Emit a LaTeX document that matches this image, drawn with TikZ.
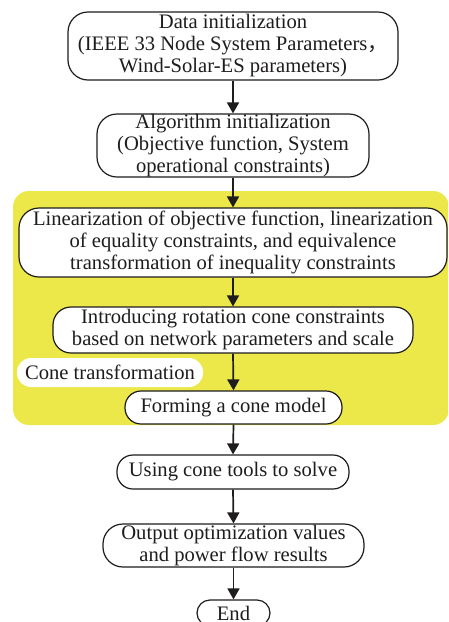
\documentclass[tikz,border=0pt]{standalone}
\usepackage{fontspec}
\setmainfont{Liberation Serif}
\newfontfamily\cjk{Noto Sans CJK SC}
\usetikzlibrary{arrows.meta}
\definecolor{ylw}{RGB}{237,232,74}
\definecolor{ink}{RGB}{30,28,28}
\tikzset{
  x=1pt,y=-1pt,
  box/.style={draw=ink, line width=1.2pt, fill=white, rounded corners=16pt, inner sep=0pt,
    align=center, text=ink, font=\fontsize{20.6}{22}\selectfont, anchor=center},
  flow/.style={draw=ink, line width=1.7pt, -{Triangle[length=11pt,width=12pt]}},
}
\begin{document}
\begin{tikzpicture}
\clip (0,0) rectangle (448,622);
\useasboundingbox (0,0) rectangle (448,622);
\fill[ylw, rounded corners=16pt] (13,191) rectangle (449,425);
\node[box, minimum width=330pt, minimum height=68pt, rounded corners=20pt] (n1) at (233,46)
  {Data initialization\\(IEEE 33 Node System Parameters{\cjk ，}\\Wind-Solar-ES parameters)};
\node[box, minimum width=272pt, minimum height=63pt, rounded corners=20pt] (n2) at (233,145.5)
  {Algorithm initialization\\(Objective function, System\\operational constraints)};
\node[box, minimum width=428pt, minimum height=69pt, rounded corners=20pt] (n3) at (233,242.5)
  {Linearization of objective function, linearization\\of equality constraints, and equivalence\\transformation of inequality constraints};
\node[box, minimum width=360pt, minimum height=46pt, rounded corners=18pt] (n4) at (233,330)
  {Introducing rotation cone constraints\\based on network parameters and scale};
\node[box, draw=none, minimum width=186pt, minimum height=29pt, rounded corners=14pt] (lbl) at (110,372.5)
  {Cone transformation};
\node[box, minimum width=217pt, minimum height=33pt] (n5) at (233.5,407.5)
  {Forming a cone model};
\node[box, minimum width=232pt, minimum height=34pt] (n6) at (233,472)
  {Using cone tools to solve};
\node[box, minimum width=261pt, minimum height=43pt, rounded corners=20pt] (n7) at (233.5,545.5)
  {Output optimization values\\and power flow results};
\node[box, minimum width=73pt, minimum height=26pt, rounded corners=13pt] (n8) at (233.5,613)
  {End};
\draw[flow] (n1.south) -- (n2.north);
\draw[flow] (n2.south) -- (n3.north);
\draw[flow] (n3.south) -- (n4.north);
\draw[flow] (n4.south) -- (n5.north);
\draw[flow] (n5.south) -- (n6.north);
\draw[flow] (n6.south) -- (n7.north);
\draw[flow] (n7.south) -- (n8.north);
\end{tikzpicture}
\end{document}
